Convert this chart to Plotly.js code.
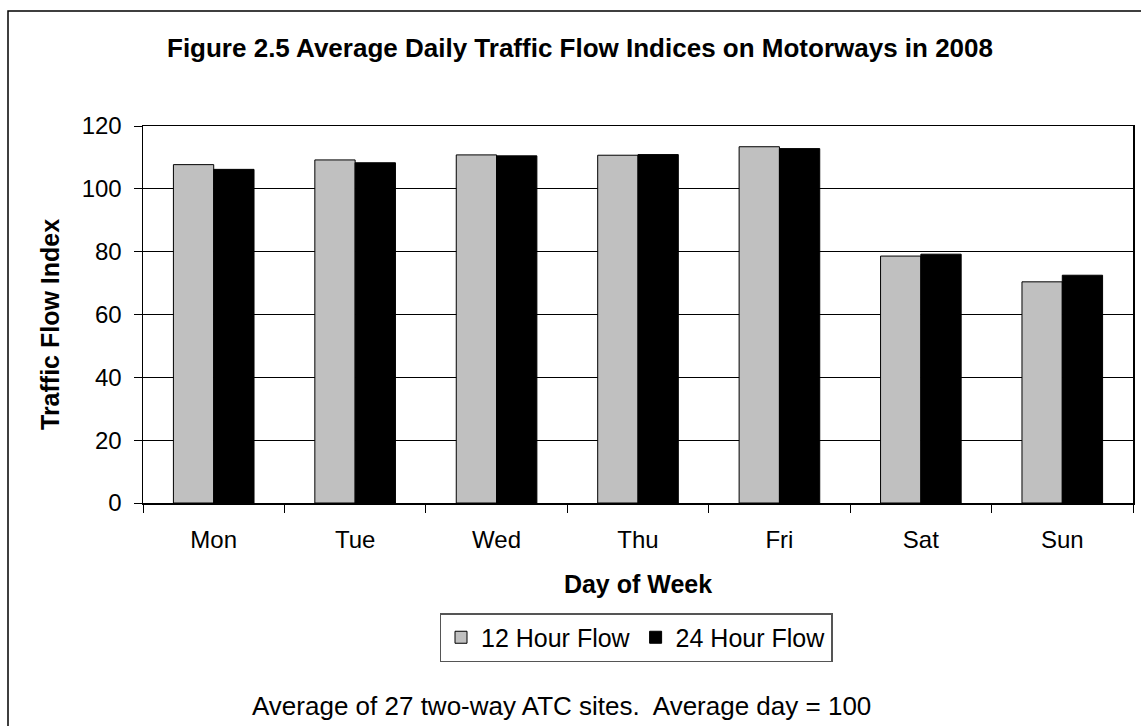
<!DOCTYPE html>
<html>
<head>
<meta charset="utf-8">
<script src="https://cdn.plot.ly/plotly-3.0.1.min.js"></script>
<style>html,body{margin:0;padding:0;background:#fff;}#chart{width:1141px;height:726px;}</style>
</head>
<body>
<div id="chart"></div>
<script>
const days = ["Mon", "Tue", "Wed", "Thu", "Fri", "Sat", "Sun"];
const flow12 = [107.7, 109.2, 110.8, 110.7, 113.4, 78.6, 70.4];
const flow24 = [106.2, 108.3, 110.5, 110.9, 112.8, 79.2, 72.5];
const yTicks = [0, 20, 40, 60, 80, 100, 120];

const FONT = "Liberation Sans, Arial, sans-serif";
const W = 1141, H = 726;
const L = 143, R = 8, T = 126, B = 223;
const pw = W - L - R, ph = H - T - B;
const px = x => (x - L) / pw;
const py = y => (H - B - y) / ph;

const traces = [
  {type: "bar", name: "12 Hour Flow", x: days, y: flow12,
   marker: {color: "#c0c0c0", line: {color: "#000", width: 1}}},
  {type: "bar", name: "24 Hour Flow", x: days, y: flow24,
   marker: {color: "#000000", line: {color: "#000", width: 1}}}
];

const layout = {
  width: W, height: H,
  margin: {l: L, r: R, t: T, b: B, pad: 0},
  paper_bgcolor: "#fff", plot_bgcolor: "#fff",
  font: {family: FONT, size: 24, color: "#000"},
  barmode: "group", bargap: 0.43, bargroupgap: 0,
  showlegend: true,
  title: {text: "<b>Figure 2.5 Average Daily Traffic Flow Indices on Motorways in 2008</b>",
          font: {family: FONT, size: 26, color: "#000"},
          x: 580 / W, xanchor: "center", y: 1 - 48 / H, yanchor: "middle", xref: "container", yref: "container"},
  xaxis: {
    showline: true, linecolor: "#000", linewidth: 1.5, mirror: true,
    ticks: "outside", tickson: "boundaries", ticklen: 8, tickcolor: "#000", tickwidth: 1,
    tickfont: {size: 24}, showgrid: false, ticklabelstandoff: 15,
    title: {text: "<b>Day of Week</b>", font: {size: 25}, standoff: 23}
  },
  yaxis: {
    range: [0, 120], tickvals: yTicks, ticktext: yTicks.map(String),
    showline: true, linecolor: "#000", linewidth: 1.5, mirror: true,
    ticks: "outside", ticklen: 8, tickcolor: "#000", tickwidth: 1,
    showgrid: true, gridcolor: "#000", gridwidth: 1, zeroline: false,
    tickfont: {size: 24}, ticklabelstandoff: 7
  },
  legend: {orientation: "h", x: px(636), xanchor: "center", y: py(637.5), yanchor: "middle",
           bordercolor: "#555", borderwidth: 1.5, bgcolor: "#fff",
           font: {size: 25}, traceorder: "normal", itemwidth: 30},
  annotations: [
    {text: "<b>Traffic Flow Index</b>", xref: "paper", yref: "paper",
     x: px(50), y: py(325), xanchor: "center", yanchor: "middle", textangle: -90,
     showarrow: false, font: {size: 25}},
    {text: "Average of 27 two-way ATC sites.\u00a0 Average day = 100", xref: "paper", yref: "paper",
     x: px(561), y: py(706), xanchor: "center", yanchor: "middle", showarrow: false,
     font: {size: 26}}
  ],
  shapes: [
    {type: "rect", xref: "paper", yref: "paper", x0: px(8), x1: px(1200), y0: py(800), y1: py(11),
     line: {color: "#000", width: 1.5}, fillcolor: "rgba(0,0,0,0)", layer: "below"}
  ]
};

Plotly.newPlot("chart", traces, layout, {displayModeBar: false, staticPlot: true});
</script>
</body>
</html>
